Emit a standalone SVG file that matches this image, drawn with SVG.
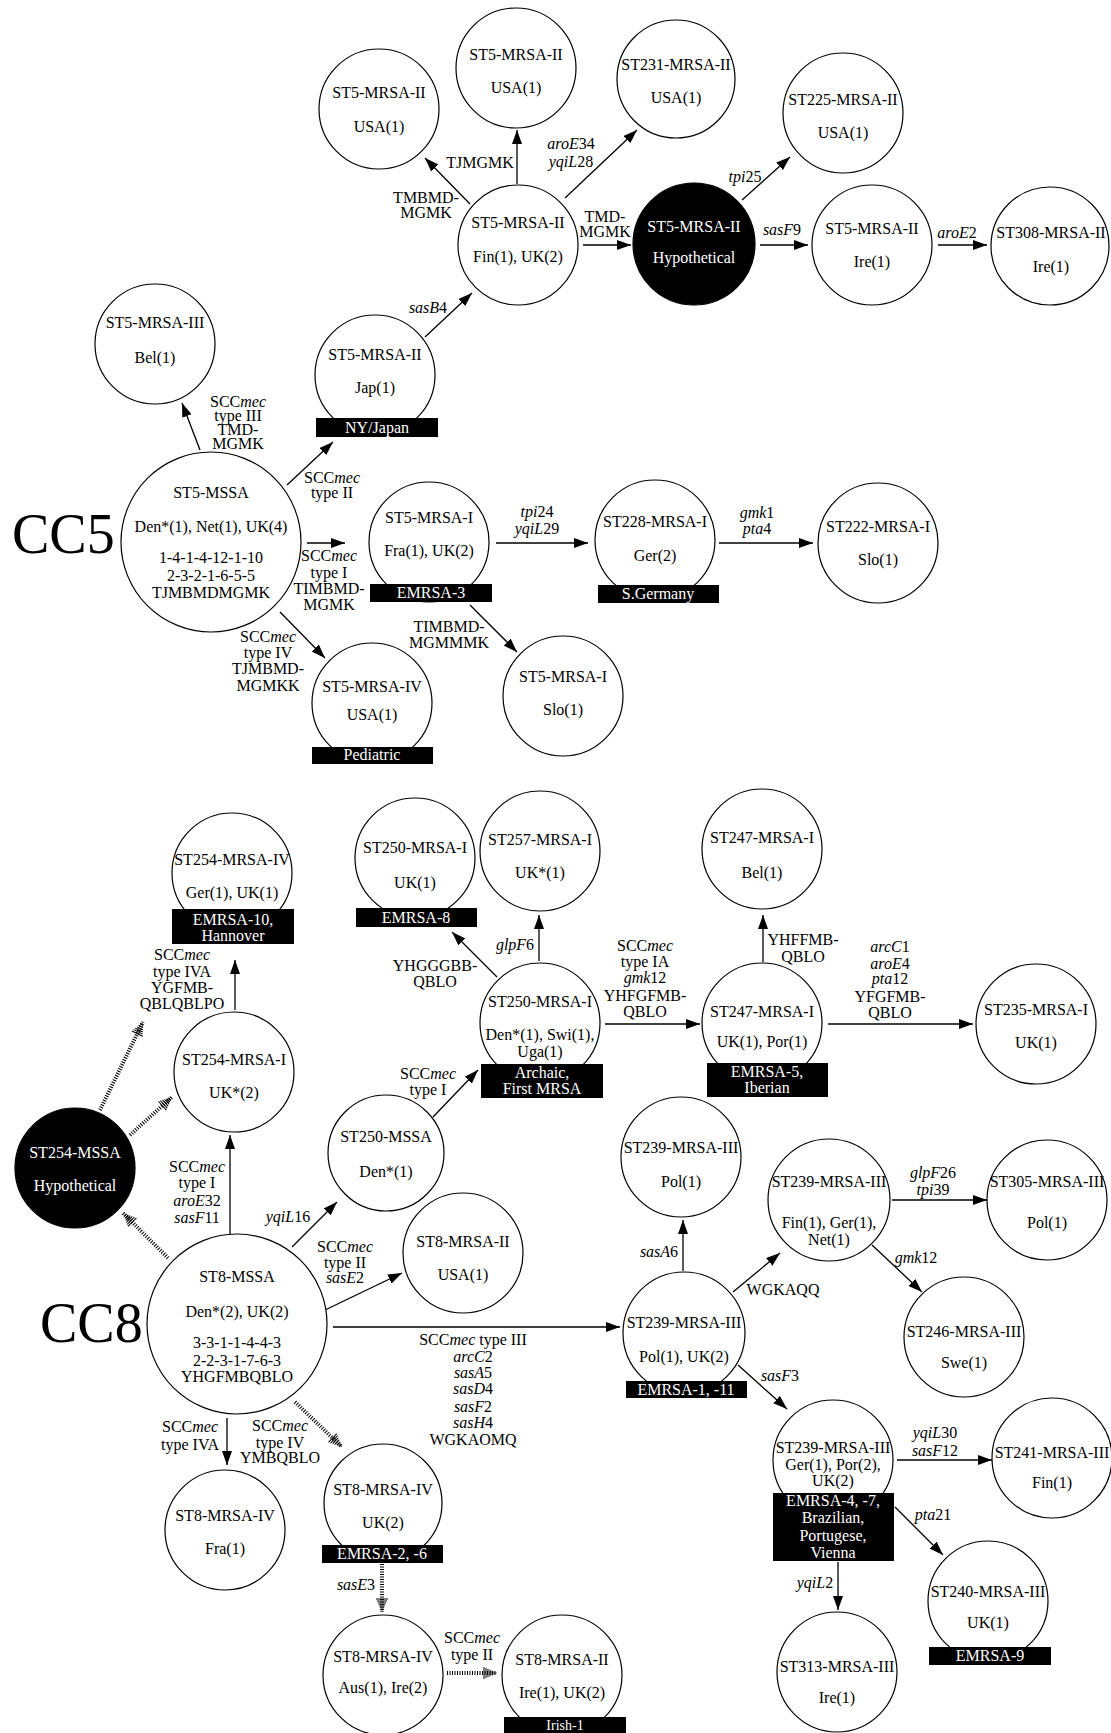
<svg xmlns="http://www.w3.org/2000/svg" width="1111" height="1733" viewBox="0 0 1111 1733">
<style>
text{font-family:"Liberation Serif","Times New Roman",serif;font-size:16px;text-anchor:middle;fill:#000}
.i{font-style:italic}
.cc{font-size:56px;text-anchor:start}
circle{fill:#fff;stroke:#000;stroke-width:1.2}
.blk circle{fill:#000}
.blk text,.bar text{fill:#fff}
.bar rect{fill:#000}
#connectors line{stroke:#000;stroke-width:1.3;fill:none}
#connectors line.s{marker-end:url(#ah)}
#connectors line.hx{stroke-width:4;stroke-dasharray:1 1.5;marker-end:url(#hh)}
</style>
<defs>
<marker id="ah" markerUnits="userSpaceOnUse" markerWidth="14" markerHeight="10" refX="14" refY="5" orient="auto"><path d="M0,0 L14,5 L0,10 z" fill="#000"/></marker>
<marker id="hh" markerUnits="userSpaceOnUse" markerWidth="15" markerHeight="14" refX="14" refY="7" orient="auto"><path d="M1,1V13M3,1.9V12.1M5,2.8V11.2M7,3.7V10.3M9,4.6V9.4M11,5.5V8.5M13,6.4V7.6" stroke="#000" stroke-width="1" fill="none"/></marker>
</defs>
<rect width="1111" height="1733" fill="#fff"/>
<text class="cc" x="12" y="553">CC5</text>
<text class="cc" x="40" y="1342">CC8</text>

<g id="connectors">
<line class="s" x1="517" y1="184" x2="517" y2="130"/>
<text x="480" y="168">TJMGMK</text>
<line class="s" x1="470" y1="204" x2="425" y2="158"/>
<text x="426" y="203">TMBMD-</text><text x="426" y="218">MGMK</text>
<line class="s" x1="565" y1="198" x2="637" y2="130"/>
<text x="571" y="149"><tspan class="i">aroE</tspan>34</text><text x="571" y="167"><tspan class="i">yqiL</tspan>28</text>
<line class="s" x1="583" y1="245" x2="631" y2="245"/>
<text x="605" y="222">TMD-</text><text x="605" y="237">MGMK</text>
<line class="s" x1="425" y1="337" x2="472" y2="293"/>
<text x="428" y="313"><tspan class="i">sasB</tspan>4</text>
<line class="s" x1="742" y1="200" x2="790" y2="157"/>
<text x="745" y="182"><tspan class="i">tpi</tspan>25</text>
<line class="s" x1="760" y1="245" x2="808" y2="245"/>
<text x="782" y="235"><tspan class="i">sasF</tspan>9</text>
<line class="s" x1="938" y1="245" x2="987" y2="245"/>
<text x="957" y="238"><tspan class="i">aroE</tspan>2</text>
<line class="s" x1="200" y1="450" x2="182" y2="403"/>
<text x="238" y="407">SCC<tspan class="i">mec</tspan></text><text x="238" y="421">type III</text><text x="238" y="435">TMD-</text><text x="238" y="449">MGMK</text>
<line class="s" x1="287" y1="485" x2="333" y2="442"/>
<text x="332" y="483">SCC<tspan class="i">mec</tspan></text><text x="332" y="498">type II</text>
<line class="s" x1="307" y1="543" x2="345" y2="543"/>
<text x="329" y="561">SCC<tspan class="i">mec</tspan></text><text x="329" y="578">type I</text><text x="329" y="594">TIMBMD-</text><text x="329" y="610">MGMK</text>
<line class="s" x1="280" y1="612" x2="325" y2="658"/>
<text x="268" y="642">SCC<tspan class="i">mec</tspan></text><text x="268" y="658">type IV</text><text x="268" y="674">TJMBMD-</text><text x="268" y="691">MGMKK</text>
<line class="s" x1="496" y1="543" x2="588" y2="543"/>
<text x="537" y="517"><tspan class="i">tpi</tspan>24</text><text x="537" y="534"><tspan class="i">yqiL</tspan>29</text>
<line class="s" x1="470" y1="605" x2="517" y2="652"/>
<text x="449" y="632">TIMBMD-</text><text x="449" y="648">MGMMMK</text>
<line class="s" x1="719" y1="543" x2="813" y2="543"/>
<text x="757" y="518"><tspan class="i">gmk</tspan>1</text><text x="757" y="534"><tspan class="i">pta</tspan>4</text>

<line class="s" x1="235" y1="1010" x2="235" y2="960"/>
<text x="182" y="960">SCC<tspan class="i">mec</tspan></text><text x="182" y="977">type IVA</text><text x="182" y="993">YGFMB-</text><text x="182" y="1009">QBLQBLPO</text>
<line class="hx" x1="100" y1="1110" x2="143" y2="1022"/>
<line class="hx" x1="130" y1="1135" x2="172" y2="1097"/>
<line class="hx" x1="168" y1="1258" x2="123" y2="1213"/>
<line class="s" x1="230" y1="1234" x2="230" y2="1135"/>
<text x="197" y="1172">SCC<tspan class="i">mec</tspan></text><text x="197" y="1188">type I</text><text x="197" y="1206"><tspan class="i">aroE</tspan>32</text><text x="197" y="1223"><tspan class="i">sasF</tspan>11</text>
<line class="s" x1="292" y1="1247" x2="337" y2="1202"/>
<text x="288" y="1222"><tspan class="i">yqiL</tspan>16</text>
<line class="s" x1="323" y1="1311" x2="402" y2="1273"/>
<text x="345" y="1252">SCC<tspan class="i">mec</tspan></text><text x="345" y="1268">type II</text><text x="345" y="1283"><tspan class="i">sasE</tspan>2</text>
<line class="s" x1="333" y1="1327" x2="620" y2="1327"/>
<text x="473" y="1345">SCC<tspan class="i">mec</tspan> type III</text><text x="473" y="1362"><tspan class="i">arcC</tspan>2</text><text x="473" y="1378"><tspan class="i">sasA</tspan>5</text><text x="473" y="1394"><tspan class="i">sasD</tspan>4</text><text x="473" y="1412"><tspan class="i">sasF</tspan>2</text><text x="473" y="1428"><tspan class="i">sasH</tspan>4</text><text x="473" y="1445">WGKAOMQ</text>
<line class="s" x1="227" y1="1418" x2="227" y2="1465"/>
<text x="190" y="1432">SCC<tspan class="i">mec</tspan></text><text x="190" y="1450">type IVA</text>
<line class="hx" x1="295" y1="1402" x2="342" y2="1447"/>
<text x="280" y="1431">SCC<tspan class="i">mec</tspan></text><text x="280" y="1448">type IV</text><text x="280" y="1463">YMBQBLO</text>
<line class="hx" x1="382" y1="1564" x2="382" y2="1612"/>
<text x="356" y="1590"><tspan class="i">sasE</tspan>3</text>
<line class="hx" x1="447" y1="1673" x2="497" y2="1673"/>
<text x="472" y="1643">SCC<tspan class="i">mec</tspan></text><text x="472" y="1660">type II</text>
<line class="s" x1="539" y1="961" x2="539" y2="915"/>
<text x="515" y="950"><tspan class="i">glpF</tspan>6</text>
<line class="s" x1="497" y1="977" x2="452" y2="932"/>
<text x="435" y="971">YHGGGBB-</text><text x="435" y="987">QBLO</text>
<line class="s" x1="433" y1="1117" x2="478" y2="1070"/>
<text x="428" y="1079">SCC<tspan class="i">mec</tspan></text><text x="428" y="1095">type I</text>
<line class="s" x1="605" y1="1024" x2="700" y2="1024"/>
<text x="645" y="951">SCC<tspan class="i">mec</tspan></text><text x="645" y="967">type IA</text><text x="645" y="983"><tspan class="i">gmk</tspan>12</text><text x="645" y="1001">YHFGFMB-</text><text x="645" y="1017">QBLO</text>
<line class="s" x1="763" y1="962" x2="763" y2="915"/>
<text x="803" y="945">YHFFMB-</text><text x="803" y="962">QBLO</text>
<line class="s" x1="828" y1="1024" x2="973" y2="1024"/>
<text x="890" y="952"><tspan class="i">arcC</tspan>1</text><text x="890" y="969"><tspan class="i">aroE</tspan>4</text><text x="890" y="984"><tspan class="i">pta</tspan>12</text><text x="890" y="1002">YFGFMB-</text><text x="890" y="1018">QBLO</text>
<line class="s" x1="683" y1="1271" x2="683" y2="1220"/>
<text x="659" y="1257"><tspan class="i">sasA</tspan>6</text>
<line class="s" x1="733" y1="1292" x2="780" y2="1253"/>
<text x="783" y="1295">WGKAQQ</text>
<line class="s" x1="892" y1="1200" x2="987" y2="1200"/>
<text x="933" y="1178"><tspan class="i">glpF</tspan>26</text><text x="933" y="1195"><tspan class="i">tpi</tspan>39</text>
<line class="s" x1="872" y1="1245" x2="922" y2="1292"/>
<text x="916" y="1263"><tspan class="i">gmk</tspan>12</text>
<line class="s" x1="738" y1="1365" x2="787" y2="1409"/>
<text x="780" y="1381"><tspan class="i">sasF</tspan>3</text>
<line class="s" x1="897" y1="1460" x2="992" y2="1460"/>
<text x="935" y="1438"><tspan class="i">yqiL</tspan>30</text><text x="935" y="1456"><tspan class="i">sasF</tspan>12</text>
<line class="s" x1="895" y1="1507" x2="943" y2="1555"/>
<text x="933" y="1520"><tspan class="i">pta</tspan>21</text>
<line class="s" x1="838" y1="1562" x2="838" y2="1610"/>
<text x="815" y="1588"><tspan class="i">yqiL</tspan>2</text>
</g>

<g id="n1"><circle cx="379" cy="109" r="60"/><text x="379" y="98">ST5-MRSA-II</text><text x="379" y="132">USA(1)</text></g>
<g id="n2"><circle cx="516" cy="68" r="60"/><text x="516" y="60">ST5-MRSA-II</text><text x="516" y="93">USA(1)</text></g>
<g id="n3"><circle cx="676" cy="79" r="59"/><text x="676" y="70">ST231-MRSA-II</text><text x="676" y="103">USA(1)</text></g>
<g id="n4"><circle cx="843" cy="113" r="60"/><text x="843" y="105">ST225-MRSA-II</text><text x="843" y="138">USA(1)</text></g>
<g id="n5"><circle cx="518" cy="245" r="60"/><text x="518" y="228">ST5-MRSA-II</text><text x="518" y="262">Fin(1), UK(2)</text></g>
<g id="n6" class="blk"><circle cx="694" cy="244" r="61"/><text x="694" y="232">ST5-MRSA-II</text><text x="694" y="263">Hypothetical</text></g>
<g id="n7"><circle cx="872" cy="245" r="60"/><text x="872" y="234">ST5-MRSA-II</text><text x="872" y="267">Ire(1)</text></g>
<g id="n8"><circle cx="1050" cy="246" r="59"/><text x="1051" y="238">ST308-MRSA-II</text><text x="1051" y="272">Ire(1)</text></g>
<g id="n9"><circle cx="155" cy="344" r="60"/><text x="155" y="328">ST5-MRSA-III</text><text x="155" y="363">Bel(1)</text></g>
<g id="n10"><circle cx="375" cy="375" r="60"/><text x="375" y="360">ST5-MRSA-II</text><text x="375" y="393">Jap(1)</text><g class="bar"><rect x="316" y="418" width="122" height="19"/><text x="377" y="433">NY/Japan</text></g></g>
<g id="n11"><circle cx="211" cy="542" r="90"/><text x="211" y="498">ST5-MSSA</text><text x="211" y="532">Den*(1), Net(1), UK(4)</text><text x="211" y="563">1-4-1-4-12-1-10</text><text x="211" y="581">2-3-2-1-6-5-5</text><text x="211" y="598">TJMBMDMGMK</text></g>
<g id="n12"><circle cx="429" cy="542" r="60"/><text x="429" y="523">ST5-MRSA-I</text><text x="429" y="556">Fra(1), UK(2)</text><g class="bar"><rect x="370" y="584" width="122" height="18"/><text x="431" y="598">EMRSA-3</text></g></g>
<g id="n13"><circle cx="655" cy="540" r="60"/><text x="655" y="527">ST228-MRSA-I</text><text x="655" y="561">Ger(2)</text><g class="bar"><rect x="598" y="585" width="121" height="18"/><text x="658" y="599">S.Germany</text></g></g>
<g id="n14"><circle cx="878" cy="543" r="60"/><text x="878" y="532">ST222-MRSA-I</text><text x="878" y="565">Slo(1)</text></g>
<g id="n15"><circle cx="372" cy="703" r="60"/><text x="372" y="692">ST5-MRSA-IV</text><text x="372" y="720">USA(1)</text><g class="bar"><rect x="312" y="747" width="121" height="17"/><text x="372" y="760">Pediatric</text></g></g>
<g id="n16"><circle cx="563" cy="696" r="60"/><text x="563" y="682">ST5-MRSA-I</text><text x="563" y="715">Slo(1)</text></g>

<g id="n17"><circle cx="232" cy="873" r="60"/><text x="232" y="865">ST254-MRSA-IV</text><text x="232" y="898">Ger(1), UK(1)</text><g class="bar"><rect x="172" y="909" width="122" height="35"/><text x="233" y="925">EMRSA-10,</text><text x="233" y="941">Hannover</text></g></g>
<g id="n18"><circle cx="415" cy="858" r="60"/><text x="415" y="853">ST250-MRSA-I</text><text x="415" y="888">UK(1)</text><g class="bar"><rect x="356" y="908" width="121" height="19"/><text x="416" y="923">EMRSA-8</text></g></g>
<g id="n19"><circle cx="540" cy="851" r="60"/><text x="540" y="845">ST257-MRSA-I</text><text x="540" y="878">UK*(1)</text></g>
<g id="n20"><circle cx="762" cy="849" r="60"/><text x="762" y="843">ST247-MRSA-I</text><text x="762" y="878">Bel(1)</text></g>
<g id="n21"><circle cx="540" cy="1023" r="60"/><text x="540" y="1007">ST250-MRSA-I</text><text x="540" y="1040">Den*(1), Swi(1),</text><text x="540" y="1057">Uga(1)</text><g class="bar"><rect x="481" y="1064" width="122" height="34"/><text x="542" y="1078">Archaic,</text><text x="542" y="1094">First MRSA</text></g></g>
<g id="n22"><circle cx="762" cy="1023" r="60"/><text x="762" y="1017">ST247-MRSA-I</text><text x="762" y="1047">UK(1), Por(1)</text><g class="bar"><rect x="707" y="1063" width="121" height="34"/><text x="767" y="1077">EMRSA-5,</text><text x="767" y="1093">Iberian</text></g></g>
<g id="n23"><circle cx="1036" cy="1024" r="60"/><text x="1036" y="1015">ST235-MRSA-I</text><text x="1036" y="1048">UK(1)</text></g>
<g id="n24"><circle cx="234" cy="1072" r="60"/><text x="234" y="1065">ST254-MRSA-I</text><text x="234" y="1098">UK*(2)</text></g>
<g id="n25" class="blk"><circle cx="75" cy="1168" r="60"/><text x="75" y="1158">ST254-MSSA</text><text x="75" y="1191">Hypothetical</text></g>
<g id="n26"><circle cx="386" cy="1153" r="58"/><text x="386" y="1142">ST250-MSSA</text><text x="386" y="1177">Den*(1)</text></g>
<g id="n27"><circle cx="681" cy="1157" r="60"/><text x="681" y="1153">ST239-MRSA-III</text><text x="681" y="1187">Pol(1)</text></g>
<g id="n28"><circle cx="829" cy="1200" r="61"/><text x="829" y="1187">ST239-MRSA-III</text><text x="829" y="1228">Fin(1), Ger(1),</text><text x="829" y="1245">Net(1)</text></g>
<g id="n29"><circle cx="1047" cy="1200" r="60"/><text x="1047" y="1187">ST305-MRSA-III</text><text x="1047" y="1228">Pol(1)</text></g>
<g id="n30"><circle cx="237" cy="1324" r="90"/><text x="237" y="1282">ST8-MSSA</text><text x="237" y="1317">Den*(2), UK(2)</text><text x="237" y="1348">3-3-1-1-4-4-3</text><text x="237" y="1366">2-2-3-1-7-6-3</text><text x="237" y="1382">YHGFMBQBLO</text></g>
<g id="n31"><circle cx="463" cy="1253" r="60"/><text x="463" y="1247">ST8-MRSA-II</text><text x="463" y="1280">USA(1)</text></g>
<g id="n32"><circle cx="684" cy="1333" r="61"/><text x="684" y="1328">ST239-MRSA-III</text><text x="684" y="1362">Pol(1), UK(2)</text><g class="bar"><rect x="626" y="1381" width="121" height="17"/><text x="686" y="1395">EMRSA-1, -11</text></g></g>
<g id="n33"><circle cx="964" cy="1337" r="60"/><text x="964" y="1337">ST246-MRSA-III</text><text x="964" y="1368">Swe(1)</text></g>
<g id="n34"><circle cx="225" cy="1530" r="60"/><text x="225" y="1521">ST8-MRSA-IV</text><text x="225" y="1554">Fra(1)</text></g>
<g id="n35"><circle cx="383" cy="1503" r="59"/><text x="383" y="1495">ST8-MRSA-IV</text><text x="383" y="1528">UK(2)</text><g class="bar"><rect x="322" y="1545" width="121" height="18"/><text x="382" y="1559">EMRSA-2, -6</text></g></g>
<g id="n36"><circle cx="833" cy="1460" r="60"/><text x="833" y="1453">ST239-MRSA-III</text><text x="833" y="1470">Ger(1), Por(2),</text><text x="833" y="1486">UK(2)</text><g class="bar"><rect x="773" y="1493" width="121" height="68"/><text x="833" y="1506">EMRSA-4, -7,</text><text x="833" y="1523">Brazilian,</text><text x="833" y="1541">Portugese,</text><text x="833" y="1558">Vienna</text></g></g>
<g id="n37"><circle cx="1052" cy="1458" r="60"/><text x="1052" y="1458">ST241-MRSA-III</text><text x="1052" y="1488">Fin(1)</text></g>
<g id="n38"><circle cx="988" cy="1601" r="60"/><text x="988" y="1597">ST240-MRSA-III</text><text x="988" y="1628">UK(1)</text><g class="bar"><rect x="929" y="1647" width="122" height="18"/><text x="990" y="1661">EMRSA-9</text></g></g>
<g id="n39"><circle cx="837" cy="1672" r="60"/><text x="837" y="1672">ST313-MRSA-III</text><text x="837" y="1703">Ire(1)</text></g>
<g id="n40"><circle cx="383" cy="1675" r="60"/><text x="383" y="1662">ST8-MRSA-IV</text><text x="383" y="1693">Aus(1), Ire(2)</text></g>
<g id="n41"><circle cx="562" cy="1675" r="60"/><text x="562" y="1665">ST8-MRSA-II</text><text x="562" y="1698">Ire(1), UK(2)</text><g class="bar"><rect x="504" y="1717" width="122" height="16"/><text x="565" y="1730" style="font-size:14px">Irish-1</text></g></g>
</svg>
